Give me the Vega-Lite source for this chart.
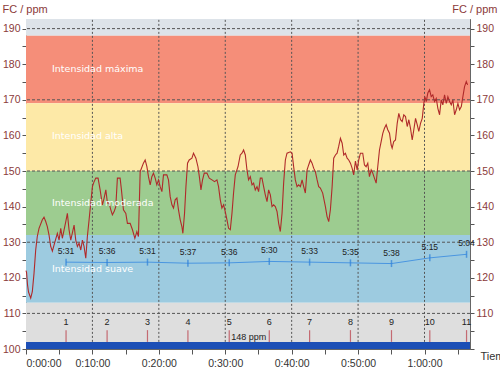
{
  "$schema": "https://vega.github.io/schema/vega-lite/v6.json",
  "width": 444,
  "height": 330,
  "autosize": "none",
  "padding": {"left": 26, "top": 19, "right": 30, "bottom": 26},
  "background": "white",
  "config": {"view": {"stroke": "#777", "strokeWidth": 1}, "font": "Liberation Sans"},
  "datasets": {
    "zones": [
      {"zone": "top", "lo": 188, "hi": 192.7},
      {"zone": "maxima", "lo": 169, "hi": 188},
      {"zone": "alta", "lo": 150, "hi": 169},
      {"zone": "moderada", "lo": 132, "hi": 150},
      {"zone": "suave", "lo": 113, "hi": 132},
      {"zone": "low", "lo": 102, "hi": 113},
      {"zone": "bar", "lo": 100, "hi": 102}
    ],
    "zonelabels": [
      {"t": 3.92, "y": 178.7, "label": "Intensidad máxima"},
      {"t": 3.92, "y": 159.9, "label": "Intensidad alta"},
      {"t": 3.92, "y": 141.0, "label": "Intensidad moderada"},
      {"t": 3.92, "y": 122.5, "label": "Intensidad suave"}
    ],
    "vgrid": [{"t": 10}, {"t": 20}, {"t": 30}, {"t": 40}, {"t": 50}, {"t": 60}],
    "hgrid": [{"y": 110}, {"y": 130}, {"y": 150}, {"y": 170}, {"y": 190}],
    "laps": [
      {"lap": "1", "t": 6.03, "pace": "5:31", "py": 124.4},
      {"lap": "2", "t": 12.21, "pace": "5:36", "py": 124.3},
      {"lap": "3", "t": 18.29, "pace": "5:31", "py": 124.4},
      {"lap": "4", "t": 24.38, "pace": "5:37", "py": 124.1},
      {"lap": "5", "t": 30.6, "pace": "5:36", "py": 124.2},
      {"lap": "6", "t": 36.63, "pace": "5:30", "py": 124.6},
      {"lap": "7", "t": 42.7, "pace": "5:33", "py": 124.4},
      {"lap": "8", "t": 48.85, "pace": "5:35", "py": 124.2},
      {"lap": "9", "t": 55.03, "pace": "5:38", "py": 124.0},
      {"lap": "10", "t": 60.8, "pace": "5:15", "py": 125.6},
      {"lap": "11", "t": 66.33, "pace": "5:04", "py": 126.6}
    ],
    "hr": [
      {"t":0.0,"hr":122},{"t":0.08,"hr":121.5},{"t":0.23,"hr":118},{"t":0.38,"hr":116},{"t":0.71,"hr":114.3},{"t":0.95,"hr":116.1},
      {"t":1.21,"hr":121.3},{"t":1.46,"hr":127.8},{"t":1.70,"hr":131.6},{"t":1.96,"hr":133.9},{"t":2.46,"hr":136.3},
      {"t":2.71,"hr":137},{"t":2.97,"hr":135.8},{"t":3.21,"hr":134.4},{"t":3.47,"hr":132},{"t":3.72,"hr":128.8},
      {"t":3.97,"hr":127.5},{"t":4.22,"hr":129.2},{"t":4.72,"hr":132.5},{"t":4.98,"hr":130.6},{"t":5.23,"hr":133.9},
      {"t":5.47,"hr":131.1},{"t":5.99,"hr":135.8},{"t":6.23,"hr":138.1},{"t":6.48,"hr":133.5},{"t":6.74,"hr":130.6},
      {"t":7.24,"hr":134.8},{"t":7.49,"hr":130.6},{"t":7.74,"hr":128.8},{"t":7.99,"hr":129.7},{"t":8.25,"hr":127.8},
      {"t":8.49,"hr":130.6},{"t":8.74,"hr":128.8},{"t":9.00,"hr":125.5},{"t":9.24,"hr":131.6},{"t":9.50,"hr":136.3},
      {"t":9.75,"hr":141},{"t":10.00,"hr":145.6},{"t":10.25,"hr":147},{"t":10.51,"hr":148},{"t":10.85,"hr":148},
      {"t":11.16,"hr":144.7},{"t":11.50,"hr":140.5},{"t":11.76,"hr":142.4},{"t":12.02,"hr":144.7},{"t":12.26,"hr":141},
      {"t":12.51,"hr":141},{"t":12.77,"hr":139.1},{"t":13.01,"hr":137.7},{"t":13.27,"hr":138.6},{"t":13.52,"hr":140},
      {"t":13.76,"hr":148},{"t":14.17,"hr":148},{"t":14.37,"hr":144.7},{"t":14.67,"hr":139.1},{"t":15.03,"hr":138.1},
      {"t":15.27,"hr":135.3},{"t":15.68,"hr":135.3},{"t":16.03,"hr":133.5},{"t":16.39,"hr":131.1},{"t":16.69,"hr":133},
      {"t":16.93,"hr":131.6},{"t":17.19,"hr":149.8},{"t":17.68,"hr":152.2},{"t":17.94,"hr":153.1},{"t":18.20,"hr":151.2},
      {"t":18.44,"hr":148.4},{"t":18.70,"hr":146.1},{"t":18.95,"hr":148.4},{"t":19.19,"hr":149.4},{"t":19.45,"hr":148},
      {"t":19.70,"hr":146.1},{"t":19.95,"hr":147.5},{"t":20.20,"hr":145.6},{"t":20.46,"hr":144.2},{"t":20.70,"hr":148.9},
      {"t":21.21,"hr":148.9},{"t":21.45,"hr":147.5},{"t":21.71,"hr":142.8},{"t":21.97,"hr":140.5},{"t":22.21,"hr":139.6},
      {"t":22.46,"hr":141.9},{"t":22.72,"hr":142.4},{"t":22.96,"hr":139.1},{"t":23.22,"hr":136.3},{"t":23.47,"hr":134.4},
      {"t":23.62,"hr":132.5},{"t":23.87,"hr":138.1},{"t":24.08,"hr":145.6},{"t":24.32,"hr":152.2},{"t":24.57,"hr":153.1},
      {"t":24.98,"hr":153.6},{"t":25.22,"hr":155},{"t":25.58,"hr":153.6},{"t":25.89,"hr":151.2},{"t":26.13,"hr":148},
      {"t":26.34,"hr":144.7},{"t":26.58,"hr":147.5},{"t":26.84,"hr":149.4},{"t":27.24,"hr":149.4},{"t":27.59,"hr":148},
      {"t":28.00,"hr":147.5},{"t":28.39,"hr":147},{"t":28.75,"hr":147.5},{"t":28.99,"hr":145.6},{"t":29.25,"hr":141.9},
      {"t":29.50,"hr":139.6},{"t":29.75,"hr":140.5},{"t":30.00,"hr":138.6},{"t":30.26,"hr":136.3},{"t":30.50,"hr":133.9},
      {"t":30.76,"hr":133.5},{"t":31.01,"hr":138.1},{"t":31.25,"hr":143.8},{"t":31.51,"hr":148.9},{"t":31.92,"hr":151.2},
      {"t":32.26,"hr":154.5},{"t":32.52,"hr":155},{"t":32.76,"hr":155.9},{"t":33.02,"hr":154.5},{"t":33.27,"hr":150.3},
      {"t":33.51,"hr":147.5},{"t":33.77,"hr":148.4},{"t":34.03,"hr":146.1},{"t":34.27,"hr":146.6},{"t":34.52,"hr":144.7},
      {"t":34.78,"hr":145.6},{"t":35.02,"hr":144.2},{"t":35.28,"hr":148},{"t":35.53,"hr":148},{"t":35.78,"hr":145.6},
      {"t":36.03,"hr":143.3},{"t":36.29,"hr":141.4},{"t":36.53,"hr":144.7},{"t":36.79,"hr":143.3},{"t":37.04,"hr":140},
      {"t":37.28,"hr":140.5},{"t":37.54,"hr":140},{"t":37.80,"hr":138.6},{"t":38.04,"hr":135.3},{"t":38.29,"hr":133},
      {"t":38.55,"hr":138.1},{"t":38.79,"hr":146.6},{"t":39.05,"hr":153.1},{"t":39.30,"hr":155},{"t":39.80,"hr":155.4},
      {"t":40.06,"hr":155},{"t":40.30,"hr":151.2},{"t":40.55,"hr":147.5},{"t":40.81,"hr":145.6},{"t":41.05,"hr":146.1},
      {"t":41.31,"hr":145.6},{"t":41.57,"hr":147.5},{"t":41.81,"hr":145.6},{"t":42.06,"hr":143.8},{"t":42.32,"hr":150.3},
      {"t":42.56,"hr":151.7},{"t":42.82,"hr":153.1},{"t":43.07,"hr":152.2},{"t":43.31,"hr":150.8},{"t":43.57,"hr":149.8},
      {"t":43.83,"hr":147.5},{"t":44.07,"hr":145.6},{"t":44.32,"hr":145.2},{"t":44.67,"hr":143.8},{"t":45.08,"hr":140},
      {"t":45.33,"hr":137.2},{"t":45.58,"hr":135.8},{"t":45.83,"hr":139.1},{"t":46.09,"hr":145.6},{"t":46.33,"hr":153.6},
      {"t":46.59,"hr":154.5},{"t":46.84,"hr":155},{"t":47.08,"hr":156.9},{"t":47.34,"hr":159.2},{"t":47.60,"hr":157.8},
      {"t":47.84,"hr":154.5},{"t":48.09,"hr":155},{"t":48.35,"hr":153.6},{"t":48.59,"hr":153.1},{"t":48.85,"hr":152.2},
      {"t":49.10,"hr":150.8},{"t":49.34,"hr":148.9},{"t":49.60,"hr":152.8},{"t":49.86,"hr":150.3},{"t":50.10,"hr":153.1},
      {"t":50.35,"hr":155},{"t":50.70,"hr":155},{"t":50.96,"hr":151.7},{"t":51.21,"hr":151.2},{"t":51.46,"hr":152.2},
      {"t":51.71,"hr":148.4},{"t":51.97,"hr":150.3},{"t":52.21,"hr":149.4},{"t":52.46,"hr":148},{"t":52.72,"hr":146.6},
      {"t":52.96,"hr":151.2},{"t":53.22,"hr":155.9},{"t":53.48,"hr":158.3},{"t":53.72,"hr":160.6},{"t":53.97,"hr":162},
      {"t":54.23,"hr":163},{"t":54.47,"hr":161.6},{"t":54.73,"hr":160.6},{"t":54.98,"hr":157.3},{"t":55.13,"hr":156.4},
      {"t":55.37,"hr":158.3},{"t":55.63,"hr":158.7},{"t":55.89,"hr":163.4},{"t":56.13,"hr":166.2},{"t":56.39,"hr":164.4},
      {"t":56.64,"hr":163.9},{"t":56.88,"hr":165.8},{"t":57.14,"hr":165.3},{"t":57.40,"hr":162.5},{"t":57.64,"hr":164.4},
      {"t":57.89,"hr":162},{"t":58.15,"hr":158.7},{"t":58.39,"hr":161.6},{"t":58.65,"hr":164.8},{"t":58.90,"hr":163},
      {"t":59.14,"hr":161.1},{"t":59.40,"hr":163.4},{"t":59.66,"hr":164.8},{"t":59.90,"hr":169},{"t":60.05,"hr":170.9},
      {"t":60.26,"hr":169.5},{"t":60.50,"hr":171.9},{"t":60.76,"hr":172.8},{"t":61.01,"hr":170.9},{"t":61.25,"hr":171.4},
      {"t":61.51,"hr":169.5},{"t":61.77,"hr":170.4},{"t":62.01,"hr":167.6},{"t":62.27,"hr":165.8},{"t":62.52,"hr":170},
      {"t":62.76,"hr":168.6},{"t":63.02,"hr":171.4},{"t":63.28,"hr":169},{"t":63.52,"hr":170.9},{"t":63.78,"hr":169.5},
      {"t":64.03,"hr":168.6},{"t":64.27,"hr":170},{"t":64.53,"hr":165.8},{"t":64.78,"hr":167.2},{"t":65.03,"hr":169},
      {"t":65.28,"hr":167.2},{"t":65.54,"hr":168.1},{"t":65.78,"hr":170.9},{"t":66.03,"hr":173.7},{"t":66.29,"hr":175.1},
      {"t":66.49,"hr":174.2}
    ]
  },
  "encoding": {
    "x": {"field": "t", "type": "quantitative", "scale": {"domain": [0, 66.85], "nice": false, "zero": false},
      "axis": {"values": [0,5,10,15,20,25,30,35,40,45,50,55,60,65],
        "labelExpr": "datum.value % 10 == 0 ? utcFormat(datum.value * 60000, '%-H:%M:%S') : ''",
        "grid": false, "domainColor": "#666", "tickColor": "#555", "tickSize": 5, "labelPadding": 4,
        "labelColor": "#333", "labelFontSize": 10.5, "labelFont": "Liberation Sans", "labelOverlap": false,
        "title": "Tiempo", "titleX": 454, "titleY": 7, "titleAlign": "left", "titleBaseline": "middle",
        "titleColor": "#333", "titleFontWeight": "normal", "titleFontSize": 11, "titleFont": "Liberation Sans"}}
  },
  "layer": [
    {
      "data": {"name": "zones"},
      "mark": {"type": "rect"},
      "encoding": {
        "x": null,
        "y": {"field": "lo", "type": "quantitative", "scale": {"domain": [100, 192.7], "nice": false, "zero": false},
          "axis": {"orient": "left", "values": [100,105,110,115,120,125,130,135,140,145,150,155,160,165,170,175,180,185,190],
            "labelExpr": "datum.value % 10 == 0 ? datum.label : ''", "grid": false, "domainColor": "#666",
            "tickColor": "#555", "tickSize": 4, "labelPadding": 2, "labelColor": "#8b3a3a", "labelFontSize": 10.5,
            "labelFont": "Liberation Sans", "labelOverlap": false, "labelBound": false,
            "title": "FC / ppm", "titleAngle": 0, "titleX": -24, "titleY": -10, "titleAlign": "left", "titleBaseline": "middle",
            "titleColor": "#8b3a3a", "titleFontWeight": "normal", "titleFontSize": 11, "titleFont": "Liberation Sans"}},
        "y2": {"field": "hi"},
        "color": {"field": "zone", "type": "nominal", "legend": null,
          "scale": {"domain": ["top", "maxima", "alta", "moderada", "suave", "low", "bar"],
                    "range": ["#dde3e9", "#f58e79", "#fde9a7", "#9dcc90", "#9dcbe0", "#dedede", "#1c4fb6"]}}
      }
    },
    {
      "data": {"name": "vgrid"},
      "mark": {"type": "rule", "color": "#555", "strokeDash": [2, 2], "strokeWidth": 1},
      "encoding": {
        "y": {"datum": 102, "type": "quantitative", "axis": null},
        "y2": {"datum": 192.7}
      }
    },
    {
      "data": {"name": "hgrid"},
      "mark": {"type": "rule", "color": "#555", "strokeDash": [3, 2], "strokeWidth": 1},
      "encoding": {
        "x": null,
        "y": {"field": "y", "type": "quantitative",
          "axis": {"orient": "right", "values": [100,105,110,115,120,125,130,135,140,145,150,155,160,165,170,175,180,185,190],
            "labelExpr": "datum.value % 10 == 0 && datum.value > 100 ? datum.label : ''", "grid": false, "domain": true, "domainColor": "#666",
            "tickColor": "#555", "tickSize": 4, "labelPadding": 2, "labelColor": "#8b3a3a", "labelFontSize": 10.5,
            "labelFont": "Liberation Sans", "labelOverlap": false, "labelBound": false,
            "title": "FC / ppm", "titleAngle": 0, "titleX": 27, "titleY": -10, "titleAlign": "right", "titleBaseline": "middle",
            "titleColor": "#8b3a3a", "titleFontWeight": "normal", "titleFontSize": 11, "titleFont": "Liberation Sans"}}
      }
    },
    {
      "data": {"name": "laps"},
      "mark": {"type": "rule", "color": "#c46a72", "strokeWidth": 1.2},
      "encoding": {
        "y": {"datum": 102, "type": "quantitative", "axis": null},
        "y2": {"datum": 105.3}
      }
    },
    {
      "data": {"name": "laps"},
      "mark": {"type": "text", "baseline": "middle", "align": "center", "color": "#222", "fontSize": 9, "font": "Liberation Sans"},
      "encoding": {
        "y": {"datum": 107.7, "type": "quantitative", "axis": null},
        "text": {"field": "lap"}
      }
    },
    {
      "data": {"values": [{"t": 30.6, "y": 103.4, "label": "148 ppm"}]},
      "mark": {"type": "text", "baseline": "middle", "align": "left", "dx": 2, "color": "#222", "fontSize": 9, "font": "Liberation Sans"},
      "encoding": {
        "y": {"field": "y", "type": "quantitative", "axis": null},
        "text": {"field": "label"}
      }
    },
    {
      "data": {"name": "hr"},
      "mark": {"type": "line", "color": "#b02a2a", "strokeWidth": 1.1},
      "encoding": {
        "y": {"field": "hr", "type": "quantitative", "axis": null}
      }
    },
    {
      "data": {"name": "zonelabels"},
      "mark": {"type": "text", "align": "left", "baseline": "middle", "color": "white", "font": "DejaVu Sans", "fontSize": 9.5},
      "encoding": {
        "y": {"field": "y", "type": "quantitative", "axis": null},
        "text": {"field": "label"}
      }
    },
    {
      "data": {"name": "laps"},
      "mark": {"type": "line", "color": "#4a96e0", "strokeWidth": 1},
      "encoding": {
        "y": {"field": "py", "type": "quantitative", "axis": null}
      }
    },
    {
      "data": {"name": "laps"},
      "mark": {"type": "tick", "orient": "vertical", "color": "#2b7fd8", "size": 7, "thickness": 1.5},
      "encoding": {
        "y": {"field": "py", "type": "quantitative", "axis": null}
      }
    },
    {
      "data": {"name": "laps"},
      "mark": {"type": "text", "baseline": "middle", "align": "center", "dy": -11, "color": "#222", "fontSize": 8.5, "font": "Liberation Sans"},
      "encoding": {
        "y": {"field": "py", "type": "quantitative", "axis": null},
        "text": {"field": "pace"}
      }
    }
  ]
}
